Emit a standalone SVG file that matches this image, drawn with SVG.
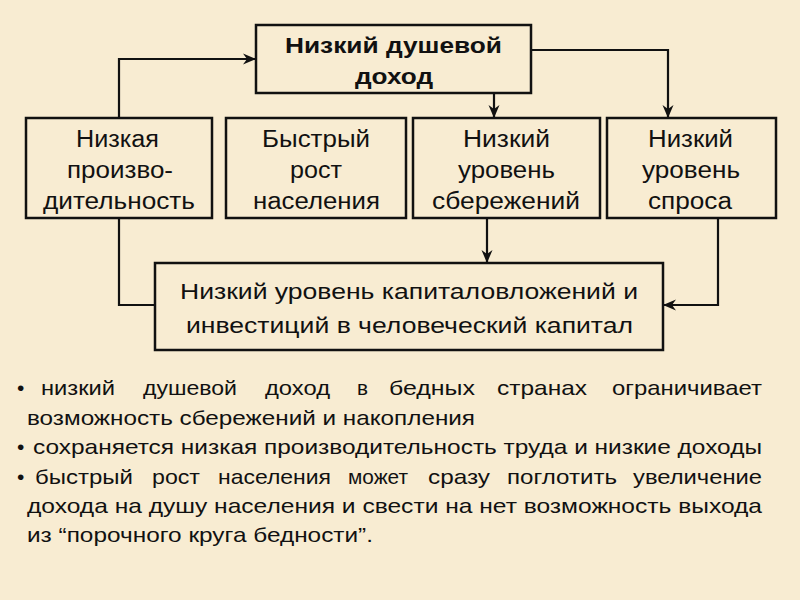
<svg xmlns="http://www.w3.org/2000/svg" width="800" height="600" viewBox="0 0 800 600">
<style>
.bx{fill:none;stroke:#111;stroke-width:2.5}
.cn{fill:none;stroke:#111;stroke-width:2.2}
.t{font-family:"Liberation Sans",Arial,sans-serif;font-size:23px;fill:#111;text-anchor:middle}
.b{font-weight:bold;font-size:22px}
.m{font-size:22px}
.p{font-family:"Liberation Sans",Arial,sans-serif;font-size:21px;fill:#111}
</style>
<defs>
<marker id="ah" markerUnits="userSpaceOnUse" markerWidth="14" markerHeight="12" refX="13" refY="6" orient="auto">
<path d="M0,0.5 L13,6 L0,11.5 L4,6 Z" fill="#111"/>
</marker>
</defs>
<rect width="800" height="600" fill="#F8ECD2"/>
<g id="connectors">
<path class="cn" d="M119,118 V59 H256" marker-end="url(#ah)"/>
<path class="cn" d="M494,93 V118" marker-end="url(#ah)"/>
<path class="cn" d="M531,50 H668 V118" marker-end="url(#ah)"/>
<path class="cn" d="M487,218 V263" marker-end="url(#ah)"/>
<path class="cn" d="M119,218 V305 H155"/>
<path class="cn" d="M718,218 V305 H663" marker-end="url(#ah)"/>
</g>
<g id="n-income">
<rect class="bx" x="256" y="25" width="275" height="68"/>
<text class="t b" x="393.5" y="53" textLength="217" lengthAdjust="spacingAndGlyphs">Низкий душевой</text>
<text class="t b" x="394" y="84" textLength="78" lengthAdjust="spacingAndGlyphs">доход</text>
</g>
<g id="n-productivity">
<rect class="bx" x="26" y="118" width="186" height="100"/>
<text class="t" x="117.5" y="147" textLength="83" lengthAdjust="spacingAndGlyphs">Низкая</text>
<text class="t" x="120" y="178" textLength="106" lengthAdjust="spacingAndGlyphs">произво-</text>
<text class="t" x="119" y="209" textLength="152" lengthAdjust="spacingAndGlyphs">дительность</text>
</g>
<g id="n-population">
<rect class="bx" x="226" y="118" width="180" height="100"/>
<text class="t" x="316" y="147" textLength="108" lengthAdjust="spacingAndGlyphs">Быстрый</text>
<text class="t" x="316" y="178" textLength="52" lengthAdjust="spacingAndGlyphs">рост</text>
<text class="t" x="316.5" y="209" textLength="127" lengthAdjust="spacingAndGlyphs">населения</text>
</g>
<g id="n-savings">
<rect class="bx" x="413" y="118" width="187" height="100"/>
<text class="t" x="506.5" y="147" textLength="87" lengthAdjust="spacingAndGlyphs">Низкий</text>
<text class="t" x="506.5" y="178" textLength="97" lengthAdjust="spacingAndGlyphs">уровень</text>
<text class="t" x="506" y="209" textLength="148" lengthAdjust="spacingAndGlyphs">сбережений</text>
</g>
<g id="n-demand">
<rect class="bx" x="607" y="118" width="169" height="100"/>
<text class="t" x="690.5" y="147" textLength="85" lengthAdjust="spacingAndGlyphs">Низкий</text>
<text class="t" x="691" y="178" textLength="98" lengthAdjust="spacingAndGlyphs">уровень</text>
<text class="t" x="690" y="209" textLength="84" lengthAdjust="spacingAndGlyphs">спроса</text>
</g>
<g id="n-investment">
<rect class="bx" x="155" y="263" width="508" height="87"/>
<text class="t m" x="409" y="299" textLength="458" lengthAdjust="spacingAndGlyphs">Низкий уровень капиталовложений и</text>
<text class="t m" x="409.5" y="333" textLength="447" lengthAdjust="spacingAndGlyphs">инвестиций в человеческий капитал</text>
</g>
<g id="bullets">
<text class="p" x="17" y="395">•</text>
<text class="p" x="41" y="395" textLength="74" lengthAdjust="spacingAndGlyphs">низкий</text>
<text class="p" x="143" y="395" textLength="94" lengthAdjust="spacingAndGlyphs">душевой</text>
<text class="p" x="265" y="395" textLength="65" lengthAdjust="spacingAndGlyphs">доход</text>
<text class="p" x="357" y="395" textLength="11" lengthAdjust="spacingAndGlyphs">в</text>
<text class="p" x="389" y="395" textLength="86" lengthAdjust="spacingAndGlyphs">бедных</text>
<text class="p" x="497" y="395" textLength="90" lengthAdjust="spacingAndGlyphs">странах</text>
<text class="p" x="612" y="395" textLength="150" lengthAdjust="spacingAndGlyphs">ограничивает</text>
<text class="p" x="27" y="424.5" textLength="448" lengthAdjust="spacingAndGlyphs">возможность сбережений и накопления</text>
<text class="p" x="17" y="454">•</text>
<text class="p" x="33" y="454" textLength="729" lengthAdjust="spacingAndGlyphs">сохраняется низкая производительность труда и низкие доходы</text>
<text class="p" x="17" y="483.5">•</text>
<text class="p" x="35" y="483.5" textLength="98" lengthAdjust="spacingAndGlyphs">быстрый</text>
<text class="p" x="152" y="483.5" textLength="48" lengthAdjust="spacingAndGlyphs">рост</text>
<text class="p" x="218" y="483.5" textLength="113" lengthAdjust="spacingAndGlyphs">населения</text>
<text class="p" x="348" y="483.5" textLength="60" lengthAdjust="spacingAndGlyphs">может</text>
<text class="p" x="428" y="483.5" textLength="62" lengthAdjust="spacingAndGlyphs">сразу</text>
<text class="p" x="507" y="483.5" textLength="110" lengthAdjust="spacingAndGlyphs">поглотить</text>
<text class="p" x="633" y="483.5" textLength="129" lengthAdjust="spacingAndGlyphs">увеличение</text>
<text class="p" x="27" y="513" textLength="735" lengthAdjust="spacingAndGlyphs">дохода на душу населения и свести на нет возможность выхода</text>
<text class="p" x="27" y="542" textLength="346" lengthAdjust="spacingAndGlyphs">из “порочного круга бедности”.</text>
</g>
</svg>
